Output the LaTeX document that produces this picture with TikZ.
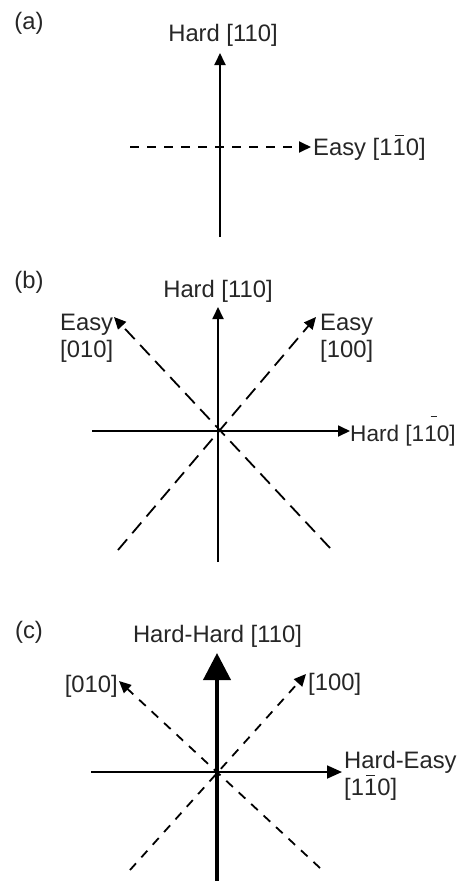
\documentclass[tikz,border=0pt]{standalone}
\usepackage{fontspec}
\setmainfont{Liberation Sans}
\usetikzlibrary{arrows.meta}
\newcommand\barone{\makebox[0pt][l]{\hspace{0.1em}\raisebox{0.78em}{\rule{0.36em}{0.07em}}}1}
\newcommand\baronehigh{\makebox[0pt][l]{\hspace{0.28em}\raisebox{1.05em}{\rule{0.3em}{0.07em}}}1}
\begin{document}
\begin{tikzpicture}[x=1pt,y=-1pt,
  lbl/.style={font=\fontsize{23.8}{27}\selectfont, inner sep=0pt, text=black!85, align=left},
  axis/.style={line width=1.8pt, -{Triangle[width=11pt,length=12pt]}},
  dsha/.style={line width=1.8pt, dash pattern=on 9pt off 8pt, -{Triangle[width=11pt,length=12pt]}},
  dshb/.style={line width=1.8pt, dash pattern=on 14pt off 8pt, -{Triangle[width=11pt,length=12pt]}},
  dshc/.style={line width=1.8pt, dash pattern=on 9pt off 8pt, -{Triangle[width=11pt,length=12pt]}},
  thick axis/.style={line width=4pt, -{Triangle[width=27pt,length=27pt]}},
  axisc/.style={line width=1.8pt, -{Triangle[width=13pt,length=15pt]}}]
\fill[white] (0,0) rectangle (458,881);
\useasboundingbox (0,0) rectangle (458,881);

% ---------- (a) ----------
\node[lbl] (pa) at (29,23) {(a)};
\coordinate (aS) at (220,237);
\coordinate (aN) at (220,53);
\coordinate (aW) at (130,147);
\coordinate (aE) at (311,147);
\draw[axis] (aS) -- (aN);
\draw[dsha] (aW) -- (aE);
\node[lbl, anchor=base] (ah) at (223,41) {Hard [110]};
\node[lbl, anchor=base west] (ae) at (313,155) {Easy [1\barone0]};

% ---------- (b) ----------
\node[lbl] (pb) at (29,282) {(b)};
\coordinate (bS) at (218,562);
\coordinate (bN) at (218,307);
\coordinate (bW) at (92,431);
\coordinate (bE) at (350,431);
\coordinate (bSW) at (118,550);
\coordinate (bNE) at (316,317);
\coordinate (bSE) at (330,548);
\coordinate (bNW) at (114,317);
\draw[axis] (bS) -- (bN);
\draw[axis] (bW) -- (bE);
\draw[dshb] (bSW) -- (bNE);
\draw[dshb] (bSE) -- (bNW);
\node[lbl, anchor=base] (bh) at (218,297) {Hard [110]};
\node[lbl, font=\fontsize{22.6}{27}\selectfont, anchor=base west] (bhe) at (350,441) {Hard [1\baronehigh0]};
\node[lbl, anchor=base west] (bel) at (60,357) {Easy\\{[}010]};
\node[lbl, anchor=base west] (ber) at (320,357) {Easy\\{[}100]};

% ---------- (c) ----------
\node[lbl] (pc) at (29,632) {(c)};
\coordinate (cS) at (217,881);
\coordinate (cN) at (217,653);
\coordinate (cW) at (91,772);
\coordinate (cE) at (342,772);
\coordinate (cSW) at (130,870);
\coordinate (cNE) at (306,674);
\coordinate (cSE) at (320,868);
\coordinate (cNW) at (119,681);
\draw[thick axis] (cS) -- (cN);
\draw[axisc] (cW) -- (cE);
\draw[dshc] (cSW) -- (cNE);
\draw[dshc] (cSE) -- (cNW);
\node[lbl, anchor=base] (ch) at (217.5,642) {Hard-Hard [110]};
\node[lbl, anchor=base west] (che) at (344,795) {Hard-Easy\\{[}1\barone0]};
\node[lbl, anchor=base east] (cl) at (118,692) {[010]};
\node[lbl, anchor=base west] (cr) at (308,690) {[100]};
\end{tikzpicture}
\end{document}
